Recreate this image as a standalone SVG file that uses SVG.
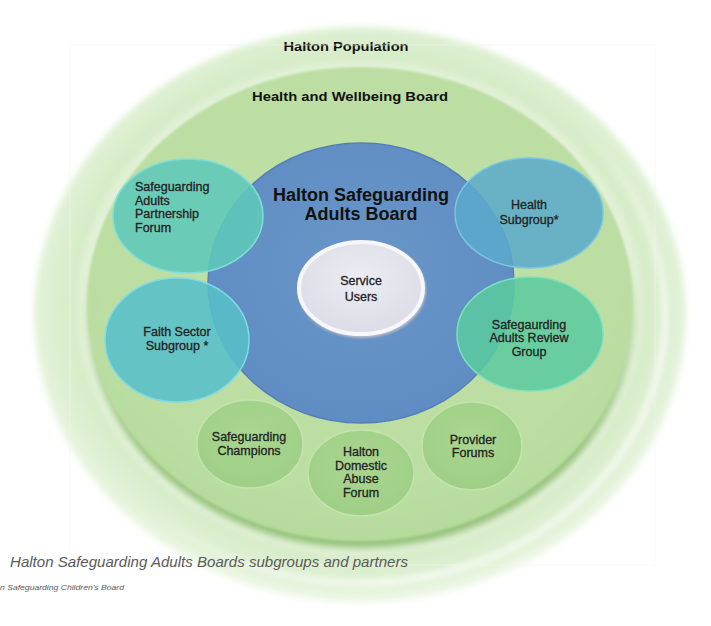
<svg xmlns="http://www.w3.org/2000/svg" width="711" height="626" viewBox="0 0 711 626">
  <defs>
    <style>
      .lbl { font-family: "Liberation Sans", Arial, sans-serif; fill: #222; stroke: #222; stroke-width: 0.3; font-size: 12.5px; text-anchor: middle; }
      .lft { text-anchor: start; }
      .ttl { font-family: "Liberation Sans", Arial, sans-serif; font-weight: bold; fill: #111; text-anchor: middle; }
      .cap { font-family: "Liberation Sans", Arial, sans-serif; font-style: italic; fill: #5a5a5a; }
      .bub { stroke-width: 1.5; }
    </style>
    <filter id="soft" x="-10%" y="-10%" width="120%" height="120%">
      <feGaussianBlur stdDeviation="3"/>
    </filter>
    <filter id="soft1" x="-10%" y="-10%" width="120%" height="120%">
      <feGaussianBlur stdDeviation="1.2"/>
    </filter>
    <radialGradient id="popFill" cx="50%" cy="48%" r="52%">
      <stop offset="0" stop-color="#d2e8c0"/>
      <stop offset="0.85" stop-color="#d7ecc8"/>
      <stop offset="0.95" stop-color="#e2f2d8"/>
      <stop offset="1" stop-color="#f2f9ec"/>
    </radialGradient>
    <linearGradient id="glint" x1="0" y1="0" x2="1" y2="1">
      <stop offset="0.5" stop-color="#ffffff" stop-opacity="0"/>
      <stop offset="0.78" stop-color="#ffffff" stop-opacity="0.9"/>
      <stop offset="1" stop-color="#ffffff" stop-opacity="0.5"/>
    </linearGradient>
    <linearGradient id="rimShade" x1="0" y1="0" x2="0" y2="1">
      <stop offset="0.35" stop-color="#98c47e" stop-opacity="0"/>
      <stop offset="0.8" stop-color="#98c47e" stop-opacity="1"/>
    </linearGradient>
    <radialGradient id="hwbFill" cx="50%" cy="40%" r="60%">
      <stop offset="0" stop-color="#bfe0a6"/>
      <stop offset="0.8" stop-color="#bcdea3"/>
      <stop offset="1" stop-color="#b6db9d"/>
    </radialGradient>
    <radialGradient id="blueFill" cx="50%" cy="45%" r="55%">
      <stop offset="0" stop-color="#6a96c8"/>
      <stop offset="1" stop-color="#5f8dc3"/>
    </radialGradient>
    <radialGradient id="suFill" cx="50%" cy="40%" r="60%">
      <stop offset="0" stop-color="#ececf3"/>
      <stop offset="1" stop-color="#dcdce6"/>
    </radialGradient>
    <radialGradient id="grnFill" cx="50%" cy="40%" r="60%">
      <stop offset="0" stop-color="#a9d690"/>
      <stop offset="1" stop-color="#9fcf86"/>
    </radialGradient>
  </defs>

  <rect width="711" height="626" fill="#ffffff"/>

  <!-- Halton Population: outer ring -->
  <g id="halton-population">
    <ellipse cx="360" cy="315" rx="326" ry="288" fill="url(#popFill)" filter="url(#soft)"/>
    <ellipse cx="360" cy="315" rx="305" ry="268" fill="none" stroke="url(#glint)" stroke-width="5" filter="url(#soft)"/>
    <text class="ttl" x="346" y="51" font-size="12.5" textLength="125" lengthAdjust="spacingAndGlyphs">Halton Population</text>
  </g>

  <!-- Health and Wellbeing Board: bevelled inner disc -->
  <g id="health-wellbeing-board">
    <ellipse cx="360" cy="308" rx="283" ry="247" fill="#e2f1d8" filter="url(#soft)"/>
    <ellipse cx="361" cy="310" rx="275" ry="238" fill="url(#rimShade)" filter="url(#soft)"/>
    <ellipse cx="360" cy="304" rx="273" ry="237" fill="url(#hwbFill)" filter="url(#soft1)"/>
    <text class="ttl" x="350" y="101" font-size="12.5" textLength="196" lengthAdjust="spacingAndGlyphs">Health and Wellbeing Board</text>
  </g>

  <!-- frame line of the page layout -->
  <rect x="70" y="45" width="585" height="520" fill="none" stroke="#f3f6f0" stroke-width="1" opacity="0.6"/>

  <!-- Halton Safeguarding Adults Board -->
  <g id="hsab">
    <ellipse cx="361" cy="283" rx="153" ry="140" fill="url(#blueFill)" stroke="#5580b6" stroke-width="1.5"/>
    <text class="ttl" x="361" y="201" font-size="18">Halton Safeguarding</text>
    <text class="ttl" x="361" y="220" font-size="18">Adults Board</text>
  </g>

  <!-- Service Users -->
  <g id="service-users">
    <ellipse cx="362" cy="290" rx="64" ry="48" fill="#b9bcc8" filter="url(#soft1)"/>
    <ellipse cx="361" cy="288" rx="62" ry="46" fill="url(#suFill)" stroke="#f7f7fb" stroke-width="4"/>
    <text class="lbl" x="361" y="285" font-size="13.5" fill="#333">Service</text>
    <text class="lbl" x="361" y="301" font-size="13.5" fill="#333">Users</text>
  </g>

  <!-- Safeguarding Adults Partnership Forum -->
  <g id="partnership-forum">
    <ellipse class="bub" cx="188" cy="216" rx="75" ry="57" fill="#5fc8b9" fill-opacity="0.88" stroke="#7fe0d8"/>
    <text class="lbl lft" x="135" y="191">Safeguarding</text>
    <text class="lbl lft" x="135" y="205">Adults</text>
    <text class="lbl lft" x="135" y="218">Partnership</text>
    <text class="lbl lft" x="135" y="232">Forum</text>
  </g>

  <!-- Faith Sector Subgroup -->
  <g id="faith-sector">
    <ellipse class="bub" cx="177" cy="340" rx="72" ry="62" fill="#58bfc8" fill-opacity="0.88" stroke="#7fdbe6"/>
    <text class="lbl" x="177" y="336">Faith Sector</text>
    <text class="lbl" x="177" y="350">Subgroup *</text>
  </g>

  <!-- Health Subgroup -->
  <g id="health-subgroup">
    <ellipse class="bub" cx="529" cy="213" rx="74" ry="55" fill="#5aaacb" fill-opacity="0.85" stroke="#78c6e2"/>
    <text class="lbl" x="529" y="209">Health</text>
    <text class="lbl" x="529" y="224">Subgroup*</text>
  </g>

  <!-- Safegaurding Adults Review Group -->
  <g id="review-group">
    <ellipse class="bub" cx="530" cy="334" rx="73" ry="57" fill="#5ccaa0" fill-opacity="0.87" stroke="#7ee0bd"/>
    <text class="lbl" x="529" y="329">Safegaurding</text>
    <text class="lbl" x="529" y="342">Adults Review</text>
    <text class="lbl" x="529" y="356">Group</text>
  </g>

  <!-- Safeguarding Champions -->
  <g id="champions">
    <ellipse class="bub" cx="250" cy="444" rx="53" ry="44" fill="url(#grnFill)" stroke="#c2e4ad"/>
    <text class="lbl" x="249" y="441">Safeguarding</text>
    <text class="lbl" x="249" y="455">Champions</text>
  </g>

  <!-- Halton Domestic Abuse Forum -->
  <g id="domestic-abuse-forum">
    <ellipse class="bub" cx="361" cy="473" rx="53" ry="43" fill="url(#grnFill)" stroke="#c2e4ad"/>
    <text class="lbl" x="361" y="456">Halton</text>
    <text class="lbl" x="361" y="470">Domestic</text>
    <text class="lbl" x="361" y="483">Abuse</text>
    <text class="lbl" x="361" y="497">Forum</text>
  </g>

  <!-- Provider Forums -->
  <g id="provider-forums">
    <ellipse class="bub" cx="472" cy="446" rx="50" ry="44" fill="url(#grnFill)" stroke="#c2e4ad"/>
    <text class="lbl" x="473" y="444">Provider</text>
    <text class="lbl" x="473" y="457">Forums</text>
  </g>

  <!-- caption lines -->
  <g id="caption">
    <text class="cap" x="10" y="567" font-size="14" textLength="398" lengthAdjust="spacingAndGlyphs">Halton Safeguarding Adults Boards subgroups and partners</text>
    <text class="cap" x="0" y="590" font-size="7" textLength="124" lengthAdjust="spacingAndGlyphs">n Safeguarding Children's Board</text>
  </g>
</svg>
